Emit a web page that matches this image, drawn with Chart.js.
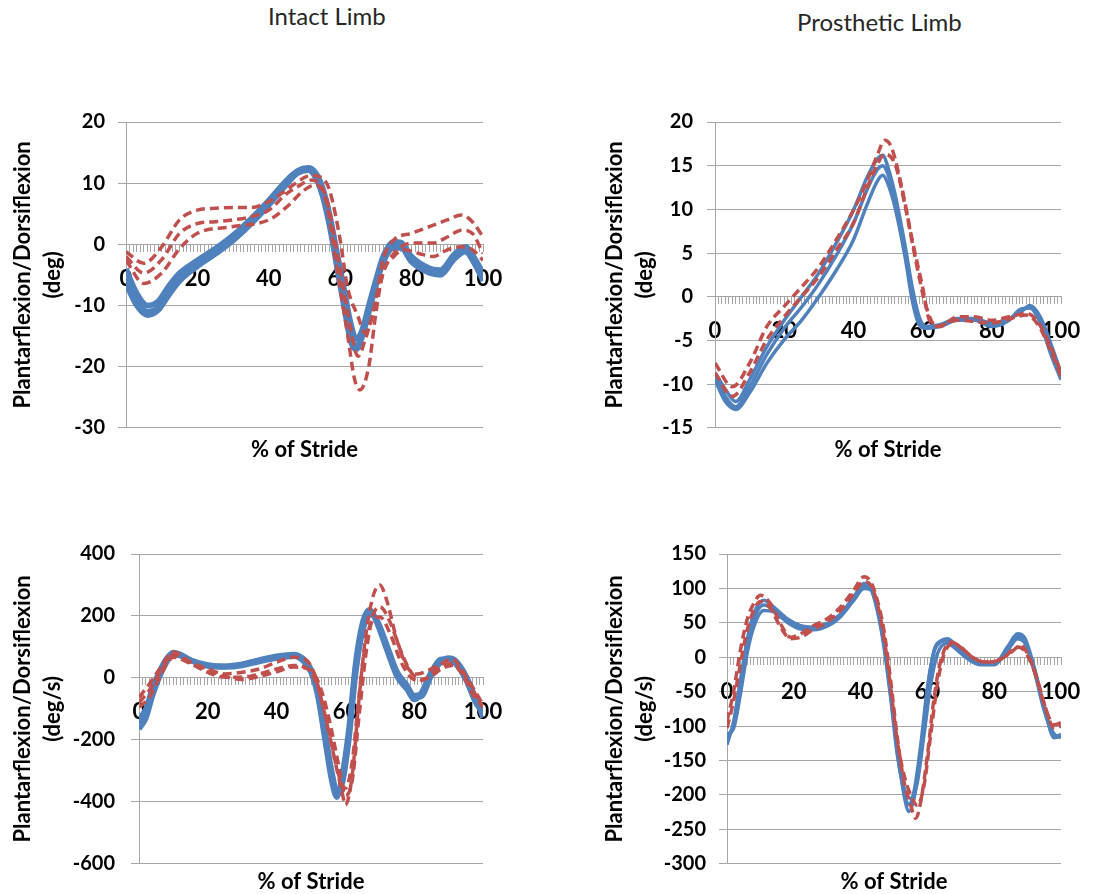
<!DOCTYPE html>
<html>
<head>
<meta charset="utf-8">
<script src="https://cdn.jsdelivr.net/npm/chart.js@4.4.0/dist/chart.umd.min.js"></script>
<style>
  body { margin: 0; background: #fff; width: 1117px; height: 894px; position: relative; overflow: hidden; font-family: Lato, sans-serif; }
  .panel { position: absolute; }
  .head { position: absolute; font-size: 24px; color: #262626; white-space: nowrap; }
</style>
</head>
<body>
<div class="head" style="left:268px; top:1px;">Intact Limb</div>
<div class="head" style="left:797px; top:7px;">Prosthetic Limb</div>
<div class="panel" style="left:0; top:97px; width:545px; height:373px;"><canvas id="intactAngle"></canvas></div>
<div class="panel" style="left:560px; top:96px; width:557px; height:374px;"><canvas id="prosAngle"></canvas></div>
<div class="panel" style="left:0; top:526px; width:545px; height:368px;"><canvas id="intactVel"></canvas></div>
<div class="panel" style="left:560px; top:529px; width:557px; height:365px;"><canvas id="prosVel"></canvas></div>
<script>
// x ticks (% of stride)
const strideTicks = [0, 20, 40, 60, 80, 100];

// ---- intact limb, angle (deg) ----
const iaBlueX = [0, 3, 6, 9, 12, 15, 20, 25, 30, 35, 40, 45, 48, 51, 53, 55, 57, 59, 61, 63, 64.5, 66, 68, 70, 72, 75, 77, 80, 85, 88, 92, 95, 98, 100];
const iaBlue1 = [-4, -8, -10, -9.3, -6.8, -4.7, -2.6, -0.7, 1.5, 4.2, 7.2, 10.5, 12, 12.5, 11.8, 9.4, 5, -1, -7, -13, -15.5, -14.2, -10, -5.8, -2, 0.4, 0.3, -2, -3.9, -4.2, -1.6, -0.4, -2.6, -4.7];
const iaBlue2 = [-5.5, -9, -11, -10.3, -7.8, -5.5, -3.2, -1.2, 1, 3.7, 6.8, 10.2, 11.8, 12.3, 11.4, 8.6, 3.8, -2.6, -9, -15, -16.8, -15, -10.8, -6.4, -2.6, -0.2, -0.2, -2.6, -4.4, -4.7, -2, -0.9, -3.2, -5.5];
const iaBlue3 = [-6.5, -10, -11.6, -10.8, -8.3, -6, -3.6, -1.6, 0.6, 3.3, 6.4, 9.8, 11.6, 12.1, 11, 8, 3, -3.5, -10, -16, -17.2, -15.4, -11.2, -6.8, -3, -0.6, -0.6, -2.9, -4.7, -5, -2.4, -1.2, -3.6, -6];
const iaRedAX = [0, 5, 10, 15, 20, 25, 30, 35, 40, 45, 48, 52, 55, 57, 60, 62, 65, 67, 70, 72, 75, 80, 85, 90, 94, 97, 100];
const iaRedA = [-1.2, -3.1, -0.4, 4, 5.6, 5.9, 6, 6, 7, 8.9, 10.2, 11.3, 10.8, 8.9, 0.7, -6.9, -11.8, -14.5, -9, -2.5, 0.7, 1.8, 2.9, 4, 4.8, 3.7, 1.2];
const iaRedBX = [0, 5, 10, 15, 20, 25, 30, 35, 40, 45, 48, 52, 56, 59, 62, 65, 67, 70, 72, 75, 80, 86, 90, 94, 97, 100];
const iaRedB = [-2, -4.7, -2.5, 1.8, 3.4, 3.7, 4, 4.5, 5.6, 8.3, 9.4, 10.5, 7.8, -0.9, -10.7, -18.3, -15.6, -9.6, -4.7, -1.5, 0.2, 0.2, 1.2, 2.3, 1.8, -1.5];
const iaRedCX = [0, 5, 10, 15, 20, 30, 40, 45, 50, 53, 56, 59, 62, 64, 65.5, 68, 70, 72, 75, 78, 82, 86, 90, 94, 97, 100];
const iaRedC = [-2.6, -6.4, -4.7, -0.7, 1.8, 2.9, 4, 6.1, 8.9, 9.7, 7.2, -3.6, -14.5, -22, -23.8, -20, -11.2, -4.7, -2, -0.9, -1.5, -2, -0.9, -0.4, -0.9, -2.6];

// ---- prosthetic limb, angle (deg) ----
const paBlueX = [0, 3, 6, 10, 15, 20, 25, 30, 35, 40, 44, 47, 48.5, 50, 52, 55, 57, 59, 61, 65, 70, 75, 80, 85, 88, 91, 94, 97, 100];
const paBlue1 = [-8.7, -10.6, -12, -9.5, -5.7, -2.7, 0, 2.7, 6.1, 9.9, 13.7, 15.8, 16.2, 14.8, 11.8, 5.7, 1.1, -2.3, -3.4, -3.2, -2.5, -2.5, -3, -2.5, -1.9, -1, -2.3, -5.3, -8.7];
const paBlue2 = [-9, -11.4, -12.6, -10.3, -6.6, -3.6, -1.2, 1.5, 4.7, 8.4, 12.3, 14.6, 15, 14, 11, 5, 0.3, -2.8, -3.6, -3.3, -2.6, -2.6, -3.2, -2.6, -1.7, -1.2, -2.6, -5.8, -9];
const paBlue3 = [-9.5, -12, -12.9, -11, -7.6, -4.9, -2.7, 0, 3, 6.5, 10.6, 13.3, 13.9, 12.9, 10.3, 4.4, -0.4, -3.2, -3.6, -3.4, -2.7, -2.7, -3.4, -2.7, -1.5, -1.3, -3, -6.5, -9.5];
const paRedAX = [0, 5, 10, 15, 20, 25, 30, 35, 40, 44, 47, 49, 51, 54, 57, 60, 62, 65, 70, 75, 80, 85, 90, 93, 97, 100];
const paRedA = [-7.6, -10.3, -7.6, -3.4, -1.1, 1.1, 3.4, 6.5, 9.9, 13.3, 16.3, 17.9, 17.1, 12.5, 6.5, 1.1, -2.7, -3.4, -2.3, -2.3, -2.7, -2.3, -1.9, -2.7, -5.7, -8.7];
const paRedBX = [0, 5, 10, 15, 20, 25, 30, 35, 40, 44, 47, 49, 52, 55, 58, 61, 64, 70, 80, 90, 93, 97, 100];
const paRedB = [-8.7, -11.4, -8.7, -4.9, -2.3, 0, 2.3, 5.3, 8.4, 12.5, 15.2, 16.3, 15.2, 10.3, 4.2, -1.1, -3.4, -2.7, -3, -2.1, -3, -6.1, -9.1];

// ---- intact limb, velocity (deg/s) ----
const ivBlueX = [0, 2, 4, 6, 8, 10, 12, 15, 20, 25, 30, 35, 40, 45, 48, 50, 52, 54, 56, 57.5, 59, 61, 63, 65, 67, 69, 72, 75, 78, 80, 82, 85, 88, 90, 92, 95, 98, 100];
const ivBlue1 = [-150, -117, -41, 13, 56, 78, 73, 56, 40, 37, 43, 56, 67, 73, 56, 24, -52, -182, -312, -377, -334, -182, 35, 165, 214, 187, 100, 13, -30, -57, -52, 13, 56, 62, 51, 2, -74, -117];
const ivBlue2 = [-165, -130, -55, 5, 50, 74, 72, 57, 42, 38, 44, 58, 70, 76, 60, 28, -45, -170, -300, -365, -345, -200, 15, 150, 205, 190, 108, 20, -25, -62, -60, 8, 54, 64, 56, 8, -70, -128];
const ivBlue3 = [-135, -100, -30, 22, 62, 82, 76, 58, 38, 35, 40, 53, 64, 70, 52, 18, -60, -195, -330, -385, -320, -165, 50, 178, 220, 182, 92, 5, -38, -70, -50, 20, 60, 60, 46, -5, -82, -110];
const ivRedAX = [0, 3, 6, 10, 15, 20, 25, 30, 35, 40, 45, 48, 51, 54, 57, 59, 60, 62, 64, 66, 68, 70, 72, 75, 78, 81, 84, 88, 91, 94, 97, 100];
const ivRedA = [-63, -20, 29, 84, 51, 29, 13, 18, 29, 51, 67, 62, 13, -117, -269, -367, -410, -312, -63, 143, 262, 300, 251, 121, 35, 13, 24, 46, 62, 24, -30, -85];
const ivRedBX = [0, 3, 6, 10, 15, 20, 25, 30, 35, 40, 45, 49, 52, 55, 58, 60, 62, 64, 66, 68, 70, 73, 76, 79, 82, 85, 88, 91, 94, 97, 100];
const ivRedB = [-95, -63, 2, 67, 46, 18, 2, 2, 13, 29, 40, 29, -30, -160, -312, -356, -269, -52, 121, 187, 197, 143, 56, 2, -9, 13, 40, 46, 13, -52, -95];
const ivRedC = [-80, -40, 15, 75, 50, 25, 5, -5, 5, 20, 35, 30, -10, -120, -280, -380, -330, -120, 80, 200, 230, 180, 90, 20, -5, 5, 30, 40, 15, -40, -90];

// ---- prosthetic limb, velocity (deg/s) ----
const pvBlueAX = [0, 2, 4, 6, 8, 11, 14, 18, 22, 26, 30, 34, 38, 41, 43, 45, 47, 49, 51, 53, 54.5, 56, 58, 60, 62, 64, 66, 69, 72, 76, 80, 84, 87, 89, 92, 95, 98, 100];
const pvBlueA = [-127, -93, -34, 24, 63, 83, 73, 56, 46, 44, 49, 63, 88, 107, 102, 73, 24, -49, -132, -200, -224, -205, -142, -49, 10, 24, 27, 15, 0, -10, -10, 15, 34, 29, -15, -73, -117, -112];
const pvBlueC = [-118, -98, -44, 15, 55, 76, 70, 54, 44, 42, 47, 61, 86, 104, 100, 70, 20, -54, -137, -196, -214, -195, -128, -44, 8, 22, 24, 13, -1, -10, -10, 13, 31, 26, -17, -75, -114, -114];
const pvBlueBX = [0, 2, 4, 6, 8, 11, 14, 18, 22, 26, 30, 34, 38, 41, 43, 45, 47, 49, 51, 53, 55, 57, 59, 61, 63, 66, 69, 72, 76, 80, 84, 87, 89, 92, 95, 98, 100];
const pvBlueB = [-112, -103, -54, 5, 44, 68, 66, 51, 41, 40, 45, 59, 83, 100, 98, 68, 15, -59, -142, -190, -205, -181, -112, -39, 5, 20, 10, -2, -11, -11, 10, 27, 22, -20, -78, -112, -117];
const pvRedAX = [0, 2, 4, 6, 8, 10, 13, 16, 19, 22, 26, 30, 34, 38, 41, 43, 45, 47, 49, 51, 53, 55, 56.5, 58, 60, 62, 64, 67, 70, 73, 77, 81, 85, 88, 90, 93, 96, 98, 100];
const pvRedA = [-93, -49, 10, 54, 78, 90, 78, 49, 29, 34, 46, 56, 73, 98, 117, 110, 83, 39, -34, -117, -181, -215, -234, -210, -142, -59, -5, 22, 15, 2, -7, -5, 7, 17, 5, -34, -83, -98, -95];
const pvRedBX = [0, 2, 4, 6, 8, 10, 13, 16, 19, 22, 26, 30, 34, 38, 41, 43, 45, 47, 49, 51, 53, 55, 57, 59, 61, 63, 65, 68, 71, 75, 79, 83, 87, 89, 92, 95, 98, 100];
const pvRedB = [-103, -63, -10, 39, 68, 81, 71, 44, 27, 29, 41, 51, 68, 93, 110, 105, 78, 29, -44, -122, -171, -200, -215, -186, -112, -39, 5, 20, 10, -5, -7, 0, 15, 10, -20, -68, -103, -100];

const BLUE = '#4F81BD';
const RED = '#C0504D';
const GRID = '#A6A6A6';

Chart.defaults.font.family = 'Lato, sans-serif';
Chart.defaults.color = '#000';

function pts(xs, ys) {
  return xs.map((x, i) => ({ x: x, y: ys[i] }));
}

function blueLine(xs, ys, w) {
  return { data: pts(xs, ys), borderColor: BLUE, borderWidth: w, pointRadius: 0, cubicInterpolationMode: 'monotone', fill: false };
}

function redLine(xs, ys) {
  return { data: pts(xs, ys), borderColor: RED, borderWidth: 3.5, borderDash: [9, 5], pointRadius: 0, cubicInterpolationMode: 'monotone', fill: false };
}

function makePanel(id, p) {
  new Chart(document.getElementById(id), {
    type: 'line',
    data: { datasets: p.datasets },
    options: {
      responsive: true,
      maintainAspectRatio: false,
      animation: false,
      layout: { padding: { top: 0, right: p.right, bottom: 0, left: 0 } },
      plugins: { legend: { display: false }, tooltip: { enabled: false } },
      scales: {
        x: {
          type: 'linear',
          position: { y: 0 },
          min: 0,
          max: 100,
          border: { color: GRID, width: 1 },
          grid: { drawOnChartArea: false, drawTicks: true, tickLength: 7, color: GRID },
          ticks: {
            stepSize: 1,
            maxTicksLimit: 101,
            autoSkip: false,
            maxRotation: 0,
            minRotation: 0,
            padding: 14,
            font: { size: 22, weight: 'bold' },
            callback: (v) => (strideTicks.includes(v) ? String(v) : '')
          }
        },
        x2: {
          type: 'linear',
          position: 'bottom',
          min: 0,
          max: 100,
          grid: { display: false, drawTicks: false },
          border: { display: false },
          ticks: { display: false },
          title: {
            display: true,
            text: '% of Stride',
            font: { size: 22, weight: 'bold', lineHeight: 1.1 },
            padding: { top: p.xTitleTop, bottom: p.xTitleBottom }
          }
        },
        y: {
          min: p.yMin,
          max: p.yMax,
          border: { color: GRID, width: 1 },
          grid: { color: GRID, tickLength: 8 },
          ticks: { stepSize: p.yStep, padding: p.yTickPad, font: { size: 20, weight: 'bold', lineHeight: 1.2 } },
          title: {
            display: true,
            text: ['Plantarflexion/Dorsiflexion', p.unit],
            font: { size: 22, weight: 'bold', lineHeight: 1.35 },
            padding: { top: p.yTitlePad, bottom: 0 }
          },
          afterFit: (scale) => { scale.width = p.axisWidth; }
        }
      }
    }
  });
}

makePanel('intactAngle', {
  datasets: [
    redLine(iaRedAX, iaRedA), redLine(iaRedBX, iaRedB), redLine(iaRedCX, iaRedC),
    blueLine(iaBlueX, iaBlue1, 5.5), blueLine(iaBlueX, iaBlue2, 5.5), blueLine(iaBlueX, iaBlue3, 5.5)
  ],
  yMin: -30, yMax: 20, yStep: 10, unit: '(deg)',
  right: 62, axisWidth: 126, yTickPad: 13, yTitlePad: 8,
  xTitleTop: 10, xTitleBottom: 8
});

makePanel('prosAngle', {
  datasets: [
    redLine(paRedAX, paRedA), redLine(paRedBX, paRedB),
    blueLine(paBlueX, paBlue1, 3.5), blueLine(paBlueX, paBlue2, 3.5), blueLine(paBlueX, paBlue3, 3.5)
  ],
  yMin: -15, yMax: 20, yStep: 5, unit: '(deg)',
  right: 56, axisWidth: 155, yTickPad: 14, yTitlePad: 40,
  xTitleTop: 10, xTitleBottom: 8
});

makePanel('intactVel', {
  datasets: [
    redLine(ivRedAX, ivRedA), redLine(ivRedBX, ivRedB), redLine(ivRedBX, ivRedC),
    blueLine(ivBlueX, ivBlue1, 5.5), blueLine(ivBlueX, ivBlue2, 5.5), blueLine(ivBlueX, ivBlue3, 5.5)
  ],
  yMin: -600, yMax: 400, yStep: 200, unit: '(deg/s)',
  right: 62, axisWidth: 139, yTickPad: 16, yTitlePad: 8,
  xTitleTop: 6, xTitleBottom: 0
});

makePanel('prosVel', {
  datasets: [
    redLine(pvRedAX, pvRedA), redLine(pvRedBX, pvRedB),
    blueLine(pvBlueAX, pvBlueA, 3.5), blueLine(pvBlueAX, pvBlueC, 3.5), blueLine(pvBlueBX, pvBlueB, 3.5)
  ],
  yMin: -300, yMax: 150, yStep: 50, unit: '(deg/s)',
  right: 56, axisWidth: 167, yTickPad: 13, yTitlePad: 40,
  xTitleTop: 6, xTitleBottom: 0
});
</script>
</body>
</html>
